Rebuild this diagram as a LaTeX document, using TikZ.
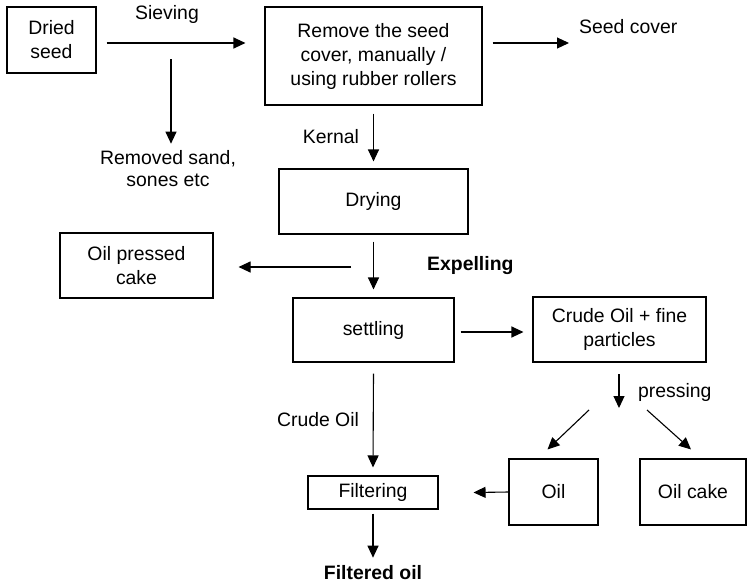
\documentclass[tikz,border=0pt]{standalone}
\usepackage{fontspec}
\setmainfont{Liberation Sans}
\usetikzlibrary{arrows.meta}
\begin{document}
\begin{tikzpicture}[x=1pt,y=-1pt,
  font=\fontsize{19.4}{24}\selectfont,
  box/.style={draw,line width=1.1pt,align=center,inner sep=0pt},
  lbl/.style={align=center,inner sep=0pt},
  arr/.style={line width=1.1pt,-{Triangle[length=12pt,width=11pt]}}]
\useasboundingbox (0,0) rectangle (747,584);
% boxes
\node[box,minimum width=89,minimum height=66] (dried) at (51.5,40) {Dried\\seed};
\node[box,minimum width=217,minimum height=98] (remove) at (373.5,56) {Remove the seed\\cover, manually /\\using rubber rollers};
\node[box,minimum width=189,minimum height=65] (drying) at (373.5,201.5) {Drying};
\node[box,minimum width=153,minimum height=65] (opcake) at (136.5,265.5) {Oil pressed\\cake};
\node[box,minimum width=161,minimum height=64] (settling) at (373.5,330) {settling};
\node[box,minimum width=173,minimum height=65] (crude) at (619.5,329.5) {Crude Oil + fine\\particles};
\node[box,minimum width=130,minimum height=33] (filtering) at (373,492.5) {Filtering};
\node[box,minimum width=89,minimum height=66] (oil) at (553.5,492) {Oil};
\node[box,minimum width=106,minimum height=66] (oilcake) at (693,492) {Oil cake};
% labels
\node[lbl] (sieving) at (167,14) {Sieving};
\node[lbl] (removed) at (168,169) {Removed sand,\\[-2pt]sones etc};
\node[lbl,anchor=west] (seedcover) at (579,27) {Seed cover};
\node[lbl] (kernal) at (331,137) {Kernal};
\node[lbl,anchor=west] (expelling) at (427,266) {\bfseries Expelling};
\node[lbl,anchor=west] (pressing) at (638,392) {pressing};
\node[lbl] (crudeoil) at (318,420) {Crude Oil};
\node[lbl] (filtered) at (373,573) {\bfseries Filtered oil};
% connector end points
\coordinate (sa) at (171,59);
\coordinate (la) at (351,267);
\coordinate (pa) at (619,374);
\coordinate (pb) at (619,408);
\coordinate (da) at (589,410);
\coordinate (db) at (647,410);
% connectors
\draw[arr] ([xshift=10pt]dried.east |- 0,43) -- ([xshift=-19pt]remove.west |- 0,43);
\draw[arr] (sa) -- ([yshift=7pt]removed.north -| sa);
\draw[arr] ([xshift=10pt]remove.east |- 0,43) -- ([xshift=-10pt]seedcover.west |- 0,43);
\draw[arr] ([yshift=-8pt]remove.south) -- ([yshift=7pt]drying.north);
\draw[arr] ([yshift=-7pt]drying.south) -- ([yshift=8pt]settling.north);
\draw[arr] (la) -- ([xshift=25pt]opcake.east |- la);
\draw[arr] ([xshift=6pt]settling.east |- 0,332) -- ([xshift=-9pt]crude.west |- 0,332);
\draw[arr] (pa) -- (pb);
\draw[arr] (da) -- ([xshift=-6pt,yshift=9pt]oil.north);
\draw[arr] (db) -- ([xshift=-2pt,yshift=9pt]oilcake.north);
\draw[arr] ([yshift=-11pt]settling.south) -- ([yshift=8pt]filtering.north);
\draw[arr] (oil.west) -- ([xshift=35pt]filtering.east);
\draw[arr] ([yshift=-4pt]filtering.south) -- ([yshift=8pt]filtered.north);
\end{tikzpicture}
\end{document}
